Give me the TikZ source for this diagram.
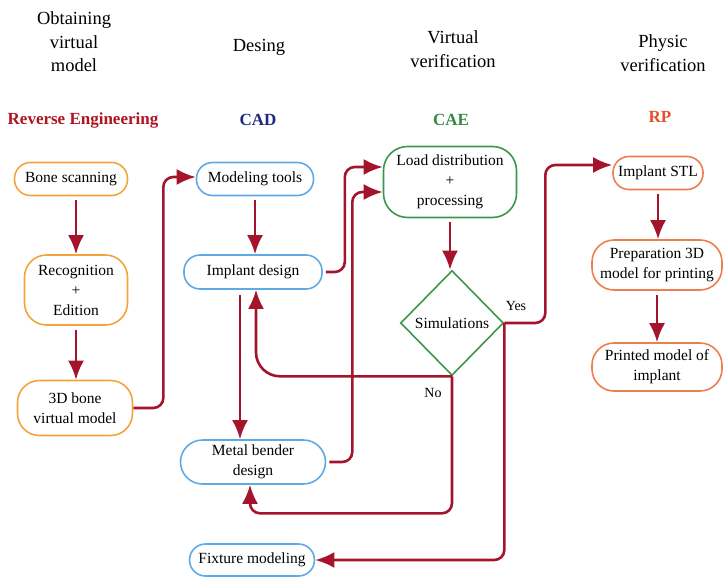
\documentclass[tikz,border=0pt]{standalone}
\usepackage{fontspec}
\setmainfont{Liberation Serif}
\usetikzlibrary{arrows.meta,shapes.geometric}
\definecolor{arrowred}{RGB}{165,20,45}
\definecolor{boxorange}{RGB}{243,165,60}
\definecolor{boxblue}{RGB}{95,170,230}
\definecolor{boxgreen}{RGB}{60,150,75}
\definecolor{boxcoral}{RGB}{238,125,80}
\definecolor{headred}{RGB}{175,20,35}
\definecolor{headblue}{RGB}{30,40,125}
\definecolor{headgreen}{RGB}{55,135,65}
\definecolor{headcoral}{RGB}{232,80,45}

\begin{document}
\begin{tikzpicture}[x=1pt,y=-1pt,
  box/.style={draw,line width=1.6pt,rounded corners=16pt,align=center,inner sep=2pt,
    font=\fontsize{15.5}{20}\selectfont},
  obox/.style={box,draw=boxorange},
  bbox/.style={box,draw=boxblue},
  gbox/.style={box,draw=boxgreen},
  cbox/.style={box,draw=boxcoral},
  head/.style={align=center,font=\fontsize{18.5}{23.5}\selectfont},
  tag/.style={font=\fontsize{17}{20}\selectfont\bfseries},
  arr/.style={draw=arrowred,line width=2.6pt,rounded corners=10pt,
    -{Latex[length=19pt,width=16pt]}},
  lbl/.style={font=\fontsize{14}{16}\selectfont}]
  \useasboundingbox (0,0) rectangle (725,578);

  \node[head] (hobt) at (74,42) {Obtaining\\virtual\\model};
  \node[head] (hdes) at (259,47) {Desing};
  \node[head] (hvir) at (453,49) {Virtual\\verification};
  \node[head] (hphy) at (663,53) {Physic\\verification};
  \node[tag,text=headred] (trev) at (83,120) {Reverse Engineering};
  \node[tag,text=headblue] (tcad) at (258,120) {CAD};
  \node[tag,text=headgreen] (tcae) at (451,120) {CAE};
  \node[tag,text=headcoral] (trp) at (660,117) {RP};

  \node[obox,minimum width=113,minimum height=33] (bone) at (71,179) {Bone scanning};
  \node[obox,rounded corners=22pt,minimum width=103,minimum height=70] (recog) at (76,290) {Recognition\\+\\Edition};
  \node[obox,rounded corners=22pt,minimum width=115,minimum height=55] (bonevm) at (75,408) {3D bone\\virtual model};

  \node[bbox,minimum width=117,minimum height=33] (modtools) at (255,179) {Modeling tools};
  \node[bbox,minimum width=138,minimum height=34] (impl) at (253,272) {Implant design};
  \node[bbox,rounded corners=22pt,minimum width=145,minimum height=44] (metal) at (253,462) {Metal bender\\design};
  \node[bbox,minimum width=125,minimum height=32] (fixture) at (252,560) {Fixture modeling};

  \node[gbox,rounded corners=24pt,minimum width=133,minimum height=71] (load) at (450,182) {Load distribution\\+\\processing};
  \node[gbox,diamond,rounded corners=0pt,inner sep=0pt,minimum width=103,minimum height=105] (sim) at (452,323) {Simulations};

  \node[cbox,minimum width=90,minimum height=33] (stl) at (658,173) {Implant STL};
  \node[cbox,rounded corners=22pt,minimum width=130,minimum height=50] (prep) at (657,265) {Preparation 3D\\model for printing};
  \node[cbox,rounded corners=22pt,minimum width=130,minimum height=48] (printed) at (657,367) {Printed model of\\implant};

  \node[lbl] (yes) at (516,306) {Yes};
  \node[lbl] (no) at (433,393) {No};

  \draw[arr,shorten <=4pt] (recog.north |- bone.south) -- (recog.north);
  \draw[arr,shorten <=4pt] (recog.south) -- (recog.south |- bonevm.north);
  \draw[arr] (bonevm.east) -- ++(30,0) |- ([yshift=2pt]modtools.west);
  \draw[arr,shorten <=4pt] (modtools.south) -- (modtools.south |- impl.north);
  \draw[arr,shorten <=3pt] (impl.east) -- ++(22,0) |- ([yshift=15pt]load.west);
  \draw[arr,shorten <=3pt] (metal.east) -- ++(26,0) |- ([yshift=-10pt]load.west);
  \draw[arr,shorten <=5pt] ([xshift=-13pt]impl.south) -- ([xshift=-13pt]metal.north);
  \draw[arr,shorten <=4pt] (load.south) -- (load.south |- sim.north);
  \draw[arr,rounded corners=24pt] (sim.south) -| ([xshift=3pt]impl.south);
  \draw[arr] (sim.south) -- ++(0,137) -| ([xshift=-3pt]metal.south);
  \draw[arr] (sim.east) -- ++(41,0) |- ([yshift=8pt]stl.west);
  \draw[arr] (sim.east) |- (fixture.east);
  \draw[arr,shorten <=4pt] (stl.south) -- (stl.south |- prep.north);
  \draw[arr,shorten <=4pt] (prep.south) -- (prep.south |- printed.north);
\end{tikzpicture}
\end{document}
